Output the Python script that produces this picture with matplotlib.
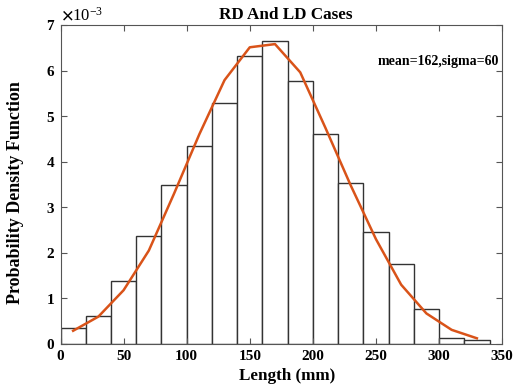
import numpy as np
import matplotlib.pyplot as plt
from matplotlib.ticker import ScalarFormatter

# histogram bins (mm) and probability density (x1e-3)
bin_edges = [0, 20, 40, 60, 80, 100, 120, 140, 160, 180, 200, 220, 240, 260, 280, 300, 320, 340]
bar_heights = [0.36, 0.62, 1.39, 2.38, 3.49, 4.35, 5.29, 6.32, 6.65, 5.77,
               4.61, 3.54, 2.46, 1.75, 0.76, 0.14, 0.09]

# fitted curve sampled at bin centers (x1e-3)
fit_x = [10, 30, 50, 70, 90, 110, 130, 150, 170, 190, 210, 230, 250, 270, 290, 310, 330]
fit_y = [0.29, 0.60, 1.18, 2.05, 3.30, 4.60, 5.79, 6.51, 6.58, 5.96,
         4.74, 3.48, 2.30, 1.30, 0.67, 0.31, 0.125]

plt.rcParams['font.family'] = ['Liberation Serif', 'DejaVu Serif']
plt.rcParams['font.weight'] = 'bold'
plt.rcParams['mathtext.fontset'] = 'stix'

fig = plt.figure(figsize=(5.15, 3.9), dpi=100)
ax = fig.add_axes([0.1175, 0.118, 0.8575, 0.818])

edges = np.array(bin_edges)
ax.bar(edges[:-1], np.array(bar_heights) * 1e-3, width=np.diff(edges), align='edge',
       facecolor='white', edgecolor='#333333', linewidth=1.0)
ax.plot(fit_x, np.array(fit_y) * 1e-3, color='#D95319', linewidth=1.8)

ax.set_xlim(0, 350)
ax.set_ylim(0, 7e-3)
ax.set_xticks(np.arange(0, 351, 50))
ax.set_yticks(np.arange(0, 7.01e-3, 1e-3))

fmt = ScalarFormatter(useMathText=True)
fmt.set_powerlimits((-3, -3))
ax.yaxis.set_major_formatter(fmt)
ax.yaxis.get_offset_text().set_fontsize(12)
ax.yaxis.get_offset_text().set_fontweight('normal')

ax.tick_params(direction='in', top=True, right=True, length=4, width=0.8,
               color='#555555', labelsize=11, pad=4)
for lbl in ax.get_xticklabels() + ax.get_yticklabels():
    lbl.set_fontweight('bold')
for s in ax.spines.values():
    s.set_color('#555555')
    s.set_linewidth(0.8)

ax.set_xlabel('Length (mm)', fontsize=12.3, fontweight='bold')
ax.xaxis.set_label_coords(0.514, -0.075)
ax.set_ylabel('Probability Density Function', fontsize=13, fontweight='bold')
ax.yaxis.set_label_coords(-0.082, 0.475)
ax.set_title('RD And LD Cases', fontsize=12.3, fontweight='bold', pad=4, x=0.511)
ax.text(0.994, 0.884, 'mean=162,sigma=60', transform=ax.transAxes, ha='right',
        va='center', fontsize=10, fontweight='bold')

fig.savefig('out.png', dpi=100)
